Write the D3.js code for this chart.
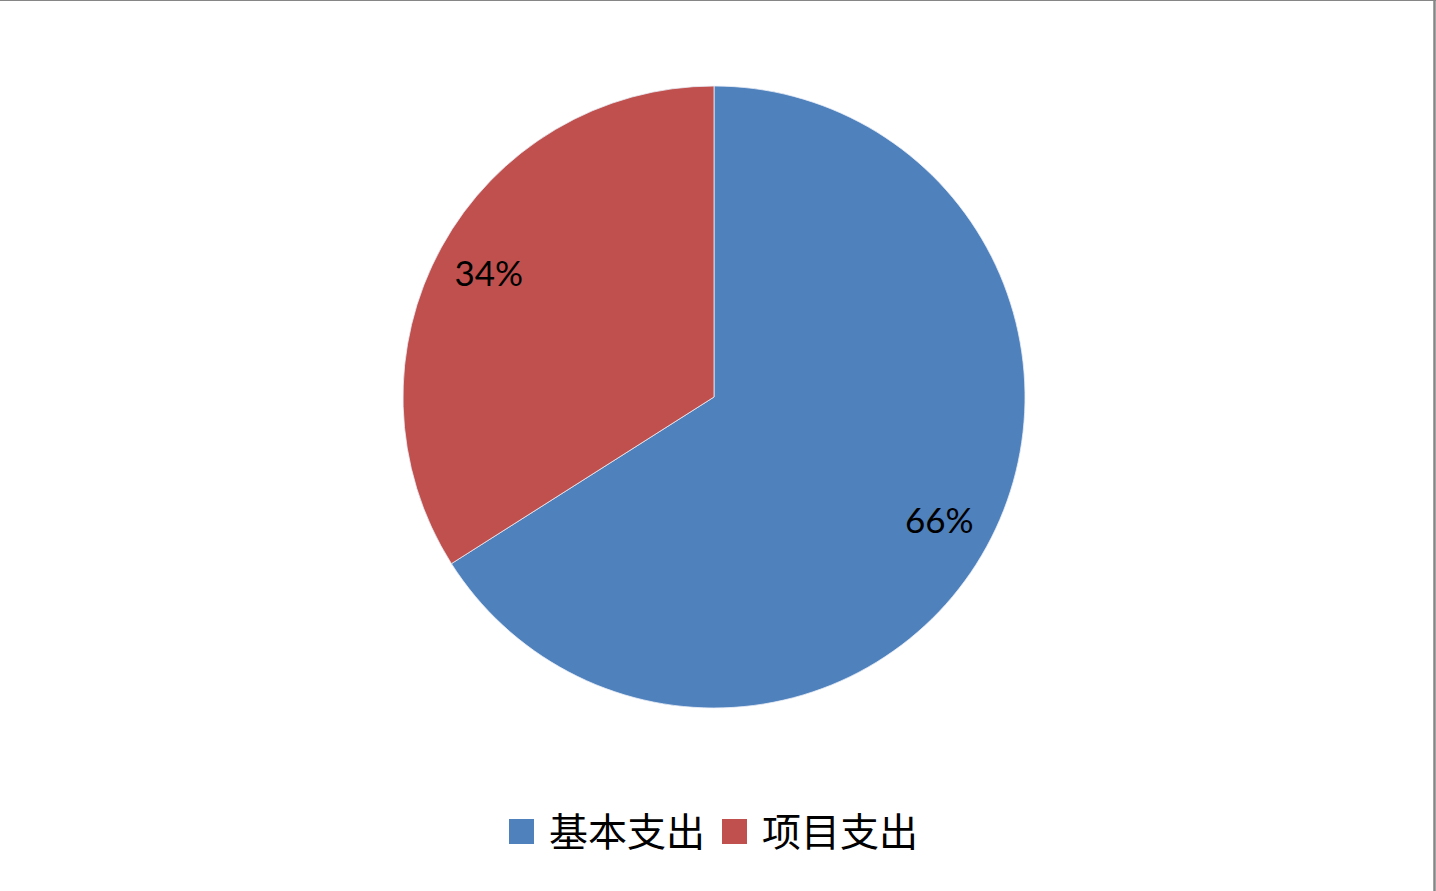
<!DOCTYPE html>
<html>
<head>
<meta charset="utf-8">
<script src="https://cdn.jsdelivr.net/npm/d3@7"></script>
<style>
  html, body { margin: 0; padding: 0; background: #fff; }
</style>
</head>
<body>
<div id="chart"></div>
<script>
const categories = ['基本支出', '项目支出']
const values = [66, 34]
const colors = ['#4F81BD', '#C0504D']

const width = 1436, height = 891
const cx = 714, cy = 397, radius = 311

const svg = d3.select('#chart').append('svg').attr('width', width).attr('height', height)

// frame: top and right edges only
svg.append('line').attr('x1', 0).attr('x2', width).attr('y1', 0.5).attr('y2', 0.5)
    .attr('stroke', '#868686').attr('stroke-width', 1)
svg.append('line').attr('x1', 1434.5).attr('x2', 1434.5).attr('y1', 0).attr('y2', height)
    .attr('stroke', '#868686').attr('stroke-width', 2.5)

const pie = d3.pie().sort(null).value(d => d)
const arcs = pie(values)
const arc = d3.arc().innerRadius(0).outerRadius(radius)
const labelArc = d3.arc().innerRadius(257).outerRadius(257)
const color = d3.scaleOrdinal().domain(categories).range(colors)

const g = svg.append('g').attr('transform', `translate(${cx},${cy})`)
g.selectAll('path').
    data(arcs).
    enter().
    append('path').
    attr('d', arc).
    attr('fill', (d, i) => color(categories[i])).
    attr('stroke', '#e8eef6').
    attr('stroke-width', 0.8)

g.selectAll('text').
    data(arcs).
    enter().
    append('text').
    attr('transform', d => `translate(${labelArc.centroid(d)})`).
    attr('text-anchor', 'middle').
    attr('dy', '0.36em').
    attr('font-family', 'Lato, "Open Sans", sans-serif').
    attr('font-size', 35).
    attr('fill', '#000').
    text(d => d.value + '%')

// legend
const legend = svg.append('g').attr('transform', 'translate(509,819)')
categories.forEach((c, i) => {
    const it = legend.append('g').attr('transform', `translate(${i * 213},0)`)
    it.append('rect').attr('width', 25).attr('height', 25).attr('fill', color(c))
    it.append('text').attr('x', 40).attr('y', 12.5).attr('dy', '0.36em').
        attr('font-family', '"Noto Sans CJK SC", sans-serif').
        attr('font-size', 39).attr('fill', '#000').text(c)
})
</script>
</body>
</html>
